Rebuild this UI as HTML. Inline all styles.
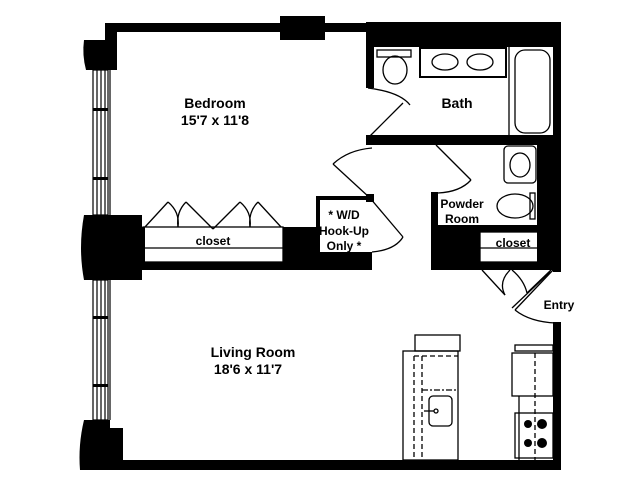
<!DOCTYPE html>
<html><head><meta charset="utf-8"><style>
html,body{margin:0;padding:0;background:#fff;width:640px;height:480px;overflow:hidden}
text{font-family:"Liberation Sans",sans-serif;font-weight:bold;fill:#000}
</style></head><body>
<svg width="640" height="480" viewBox="0 0 640 480" xmlns="http://www.w3.org/2000/svg">
<g fill="#000">
<!-- top wall -->
<rect x="105" y="23" width="456" height="9"/>
<rect x="280" y="16" width="45" height="24"/>
<rect x="368" y="22" width="193" height="25"/>
<rect x="105" y="23" width="12" height="47"/>
<!-- left top window frame -->
<path d="M84 40 L107 40 L107 70 L86 70 Q82 55 84 40Z"/>
<!-- left middle block -->
<path d="M84 215 L142 215 L142 280 L84 280 Q78 248 84 215Z"/>
<rect x="142" y="227" width="3" height="43"/>
<!-- bottom left block -->
<path d="M84 420 L110 420 L110 428 L123 428 L123 470 L80 470 Q78 445 84 420Z"/>
<!-- bedroom closet walls -->
<rect x="143" y="262" width="229" height="8"/>
<rect x="283" y="227" width="35" height="43"/>
<!-- W/D box -->
<rect x="316" y="196" width="56" height="4"/>
<rect x="316" y="196" width="4" height="60"/>
<rect x="316" y="252" width="56" height="18"/>
<rect x="366" y="194" width="8" height="8"/>
<!-- bath -->
<rect x="366" y="22" width="8" height="66"/>
<rect x="366" y="135" width="187" height="10"/>
<rect x="553" y="22" width="8" height="250"/>
<!-- powder right black -->
<rect x="537" y="145" width="16" height="125"/>
<rect x="431" y="192" width="7" height="78"/>
<rect x="431" y="225" width="49" height="45"/>
<rect x="480" y="225" width="73" height="7"/>
<rect x="480" y="262" width="73" height="8"/>
<!-- right lower wall -->
<rect x="553" y="322" width="8" height="148"/>
<!-- bottom wall -->
<rect x="80" y="460" width="481" height="10"/>
</g>
<g fill="none" stroke="#000" stroke-width="1.2">
<!-- left windows -->
<rect x="93" y="70" width="15" height="145"/>
<line x1="97" y1="70" x2="97" y2="215"/><line x1="101" y1="70" x2="101" y2="215"/><line x1="105" y1="70" x2="105" y2="215"/>
<rect x="93" y="280" width="15" height="140"/>
<line x1="97" y1="280" x2="97" y2="420"/><line x1="101" y1="280" x2="101" y2="420"/><line x1="105" y1="280" x2="105" y2="420"/>
<line x1="110" y1="70" x2="110" y2="215"/><line x1="110" y1="280" x2="110" y2="420"/>
</g>
<g fill="#000"><rect x="93" y="108" width="15" height="3"/><rect x="93" y="177" width="15" height="3"/><rect x="93" y="316" width="15" height="3"/><rect x="93" y="384" width="15" height="3"/></g>
<g fill="none" stroke="#000" stroke-width="1.3">
<!-- bedroom closet -->
<rect x="143" y="227" width="140" height="35"/>
<line x1="143" y1="248" x2="283" y2="248"/>
<line x1="145" y1="227" x2="168" y2="202"/><path d="M168 202 Q180 212 178 227"/>
<line x1="213" y1="229" x2="186" y2="202"/><path d="M186 202 Q176 212 178 227"/>
<line x1="213" y1="229" x2="240" y2="202"/><path d="M240 202 Q252 212 250 227"/>
<line x1="281" y1="227" x2="258" y2="202"/><path d="M258 202 Q248 212 250 227"/>
<!-- bath fixtures -->
<rect x="377" y="50" width="34" height="7"/>
<ellipse cx="395" cy="70" rx="12" ry="14"/>
<rect x="420" y="48" width="86" height="29" stroke-width="2"/>
<ellipse cx="445" cy="62" rx="13" ry="8"/><ellipse cx="480" cy="62" rx="13" ry="8"/>
<line x1="509" y1="47" x2="509" y2="135"/>
<rect x="515" y="50" width="35" height="83" rx="10"/>
<!-- bath door -->
<line x1="370" y1="136" x2="403" y2="103"/><path d="M368 88 Q400 92 410 105"/>
<!-- bedroom door -->
<line x1="370" y1="198" x2="333" y2="164"/><path d="M333 164 Q348 150 372 148"/>
<!-- W/D door -->
<line x1="370" y1="198" x2="403" y2="237"/><path d="M403 237 Q395 250 372 252"/>
<!-- powder -->
<line x1="436" y1="145" x2="471" y2="180"/><path d="M471 180 Q460 192 438 193"/>
<rect x="504" y="146" width="32" height="37" rx="4"/>
<ellipse cx="520" cy="165" rx="10" ry="12"/>
<ellipse cx="515" cy="206" rx="18" ry="12"/>
<rect x="530" y="193" width="5" height="26"/>
<!-- entry closet -->
<rect x="480" y="232" width="73" height="30"/>
<line x1="480" y1="248" x2="553" y2="248"/>
<line x1="482" y1="270" x2="505" y2="295"/><path d="M505 295 Q498 282 510 270"/>
<line x1="551" y1="270" x2="527" y2="293"/><path d="M527 293 Q524 280 512 270"/>
<!-- entry door -->
<line x1="553" y1="270" x2="515" y2="310"/><line x1="550" y1="272" x2="512" y2="308"/>
<path d="M515 310 Q530 322 556 323"/>
<!-- island -->
<rect x="403" y="351" width="55" height="109"/>
<rect x="415" y="335" width="45" height="16"/>
<line x1="414" y1="356" x2="414" y2="460" stroke-dasharray="5,3"/>
<line x1="422" y1="356" x2="422" y2="460" stroke-dasharray="5,3"/>
<line x1="414" y1="356" x2="458" y2="356" stroke-dasharray="5,3"/>
<line x1="422" y1="390" x2="458" y2="390" stroke-dasharray="6,2,2,2"/>
<rect x="429" y="396" width="23" height="30" rx="4"/>
<line x1="424" y1="411" x2="434" y2="411"/><circle cx="436" cy="411" r="2"/>
<!-- right counter -->
<rect x="515" y="345" width="38" height="6"/>
<rect x="512" y="353" width="41" height="43"/>
<line x1="519" y1="396" x2="519" y2="460"/>
<line x1="535" y1="353" x2="535" y2="460" stroke-dasharray="5,3"/>
<rect x="515" y="413" width="38" height="45"/>
</g>
<g fill="#000"><circle cx="528" cy="424" r="4"/><circle cx="542" cy="424" r="5"/><circle cx="528" cy="443" r="4"/><circle cx="542" cy="443" r="5"/></g>
<text x="215" y="108" font-size="14" text-anchor="middle">Bedroom</text>
<text x="215" y="125" font-size="14" text-anchor="middle">15'7 x 11'8</text>
<text x="457" y="108" font-size="14" text-anchor="middle">Bath</text>
<text x="462" y="208" font-size="12" text-anchor="middle">Powder</text>
<text x="462" y="223" font-size="12" text-anchor="middle">Room</text>
<text x="513" y="247" font-size="12" text-anchor="middle">closet</text>
<text x="213" y="245" font-size="12" text-anchor="middle">closet</text>
<text x="344" y="219" font-size="12" text-anchor="middle">* W/D</text>
<text x="344" y="235" font-size="12" text-anchor="middle">Hook-Up</text>
<text x="344" y="250" font-size="12" text-anchor="middle">Only *</text>
<text x="559" y="309" font-size="12" text-anchor="middle">Entry</text>
<text x="253" y="357" font-size="14" text-anchor="middle">Living Room</text>
<text x="248" y="374" font-size="14" text-anchor="middle">18'6 x 11'7</text>
</svg>
</body></html>
